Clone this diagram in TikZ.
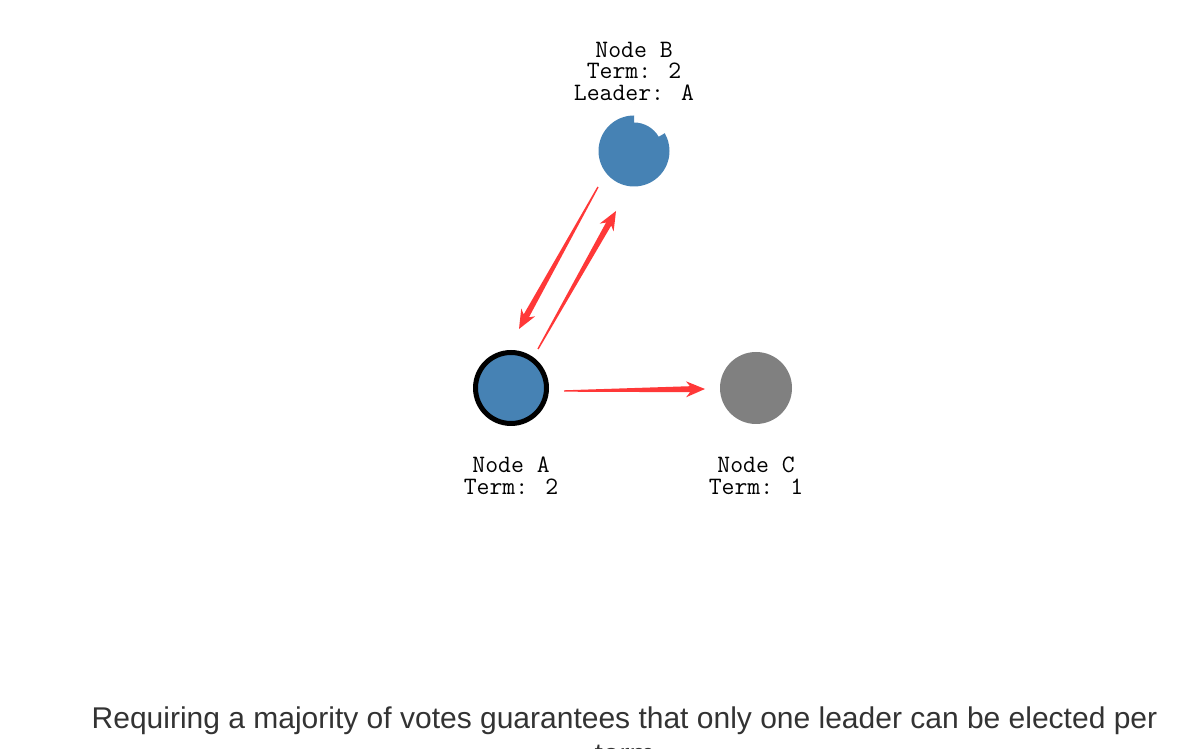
\documentclass[tikz,border=0pt]{standalone}
\usepackage{fontspec}
\setmainfont{Liberation Sans}
\usetikzlibrary{calc}
\definecolor{steel}{RGB}{70,130,180}
\definecolor{arrowred}{RGB}{255,56,56}
\definecolor{grayC}{RGB}{128,128,128}
\definecolor{captext}{RGB}{51,51,51}
\tikzset{
  nodelabel/.style={font=\ttfamily\fontsize{25}{21.5}\selectfont, align=center, inner sep=0pt},
  caption/.style={font=\fontsize{30}{32}\selectfont, text=captext, inner sep=0pt, anchor=base},
}
\newcommand\taperarrow[2]{%
  \coordinate (tH1) at ($(#2)!15pt!(#1)$);
  \coordinate (tH2) at ($(#2)!19pt!(#1)$);
  \fill[arrowred] ($(#1)!0.7pt!90:(#2)$) -- ($(tH1)!3pt!90:(#2)$) -- ($(tH2)!8pt!90:(#2)$) -- (#2)
    -- ($(tH2)!8pt!-90:(#2)$) -- ($(tH1)!3pt!-90:(#2)$) -- ($(#1)!0.7pt!-90:(#2)$) -- cycle;
}
\begin{document}
\begin{tikzpicture}[x=1pt,y=1pt]
\useasboundingbox (0,0) rectangle (1180,749);
\clip (0,0) rectangle (1180,749);
% nodes
\node[circle, fill=steel, draw=black, line width=5pt, minimum size=71pt, inner sep=0pt] (A) at (511,361) {};
\node[circle, minimum size=71pt, inner sep=0pt] (B) at (634,598) {};
\fill[steel] ($(B.center)+(90:35.5pt)$) arc[start angle=90, end angle=390, radius=35.5pt]
   -- ($(B.center)+(30:28.5pt)$) arc[start angle=30, end angle=90, radius=28.5pt] -- cycle;
\node[circle, fill=grayC, minimum size=72pt, inner sep=0pt] (C) at (756,361) {};
% labels
\node[nodelabel] (labB) at (634,678) {Node B\\Term: 2\\Leader: A};
\node[nodelabel] (labA) at (511,273) {Node A\\Term: 2};
\node[nodelabel] (labC) at (756,273) {Node C\\Term: 1};
% connector ends
\coordinate (ba1) at (598,562);
\coordinate (ba2) at (519,420);
\coordinate (ab1) at (538,400);
\coordinate (ab2) at (616,538);
\coordinate (ac1) at (564,358);
\coordinate (ac2) at (705,360);
\taperarrow{ba1}{ba2}
\taperarrow{ab1}{ab2}
\taperarrow{ac1}{ac2}
% caption
\node[caption] (cap1) at (624.5,20) {Requiring a majority of votes guarantees that only one leader can be elected per};
\node[caption] (cap2) at (624.5,-16) {term};
\end{tikzpicture}
\end{document}
